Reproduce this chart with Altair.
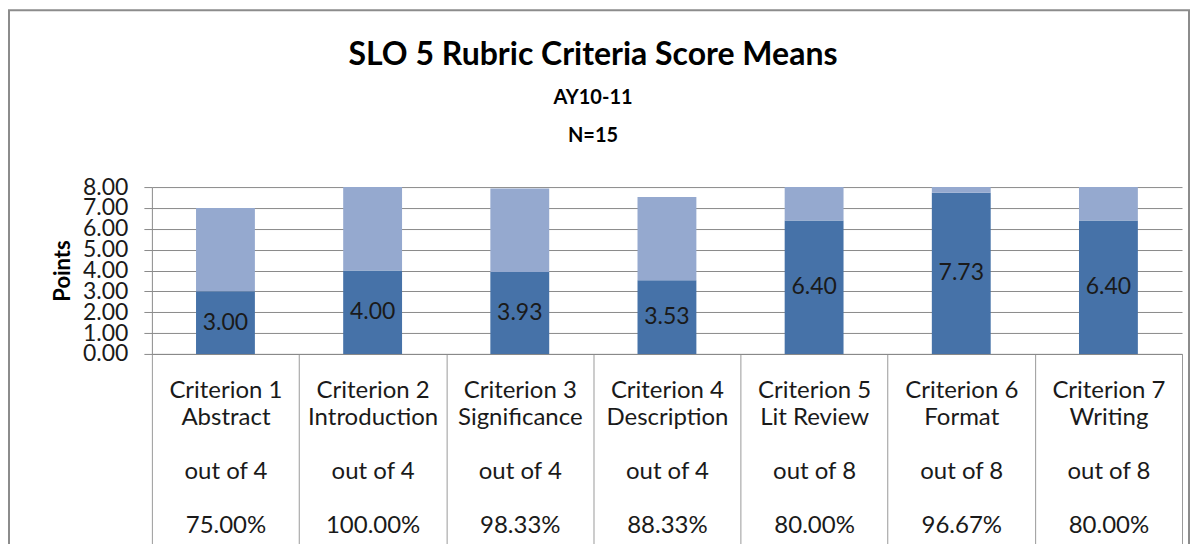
import altair as alt
import pandas as pd

criteria = ["Criterion 1", "Criterion 2", "Criterion 3", "Criterion 4",
            "Criterion 5", "Criterion 6", "Criterion 7"]
names = ["Abstract", "Introduction", "Significance", "Description",
         "Lit Review", "Format", "Writing"]
out_of = ["out of 4", "out of 4", "out of 4", "out of 4",
          "out of 8", "out of 8", "out of 8"]
percents = ["75.00%", "100.00%", "98.33%", "88.33%", "80.00%", "96.67%", "80.00%"]
means = [3.00, 4.00, 3.93, 3.53, 6.40, 7.73, 6.40]
remaining = [4.00, 4.00, 4.00, 4.00, 1.60, 0.27, 1.60]
y_ticks = [0, 1, 2, 3, 4, 5, 6, 7, 8]

FONT = "Lato"
DARK = "#4672a8"
LIGHT = "#95a9cf"
GRID = "#8a8a8a"
ZW = "\u200b"

cats = [f"{c}|{n}|{ZW}|{o}|{ZW}|{p}" for c, n, o, p in zip(criteria, names, out_of, percents)]

rows = []
for cat, m, r in zip(cats, means, remaining):
    rows.append({"cat": cat, "segment": "Mean", "value": m, "ord": 0})
    rows.append({"cat": cat, "segment": "Remaining", "value": r, "ord": 1})
df = pd.DataFrame(rows)
df_mean = pd.DataFrame({"cat": cats, "value": means})

x_axis = alt.Axis(
    labelExpr="split(datum.label, '|')",
    labelAngle=0, labelFont=FONT, labelFontSize=24, labelColor="#1a1a1a",
    labelLineHeight=27, labelBaseline="top",
    tickBand="extent", tickSize=195, tickColor="#9a9a9a",
    labelPadding=-170, domainColor=GRID, grid=False, labelOverlap=False,
)
y_axis = alt.Axis(values=y_ticks, format=".2f",
                  labelFont=FONT, labelFontSize=23, labelColor="#1a1a1a",
                  labelOverlap=False,
                  tickSize=8, tickColor=GRID, labelPadding=16,
                  domainColor=GRID, gridColor=GRID, grid=True,
                  titleFont=FONT, titleFontSize=22, titleFontWeight="bold",
                  titleColor="black", titlePadding=8)
x_scale = alt.Scale(paddingInner=0, paddingOuter=0)
y_scale = alt.Scale(domain=[0, 8], nice=False)

bars = alt.Chart(df).mark_bar(width={"band": 0.4}).encode(
    x=alt.X("cat:N", sort=None, title=None, scale=x_scale, axis=x_axis),
    y=alt.Y("value:Q", stack="zero", scale=y_scale, title="Points", axis=y_axis),
    color=alt.Color("segment:N",
                    scale=alt.Scale(domain=["Mean", "Remaining"], range=[DARK, LIGHT]),
                    legend=None),
    order=alt.Order("ord:Q"),
)

labels = alt.Chart(df_mean).transform_calculate(
    mid="datum.value / 2"
).mark_text(font=FONT, fontSize=23, color="#1a1a1a", baseline="middle").encode(
    x=alt.X("cat:N", sort=None, title=None, scale=x_scale, axis=x_axis),
    y=alt.Y("mid:Q", scale=y_scale, title="Points", axis=y_axis),
    text=alt.Text("value:Q", format=".2f"),
)

frame = alt.Chart(pd.DataFrame({"a": [0]})).mark_rect(
    fillOpacity=0, stroke="#8c8c8c", strokeWidth=2, clip=False
).encode(
    x=alt.value(-143), x2=alt.value(1038), y=alt.value(-177), y2=alt.value(420)
)

chart = alt.layer(frame, bars, labels).properties(
    width=1031, height=167,
    background="white",
    autosize=alt.AutoSizeParams(type="none"),
    padding={"left": 144, "top": 179, "right": 10, "bottom": 190},
    title=alt.TitleParams(
        text="SLO 5 Rubric Criteria Score Means",
        subtitle=["AY10-11", "N=15"],
        font=FONT, fontSize=32, fontWeight="bold", color="black",
        subtitleFont=FONT, subtitleFontSize=20, subtitleFontWeight="bold",
        subtitleColor="black", subtitleLineHeight=38, subtitlePadding=16,
        anchor="middle", dx=-74, dy=166, offset=28,
    ),
).configure_view(stroke=None)

chart.save("out.html", embed_options={"renderer": "svg", "actions": False})
